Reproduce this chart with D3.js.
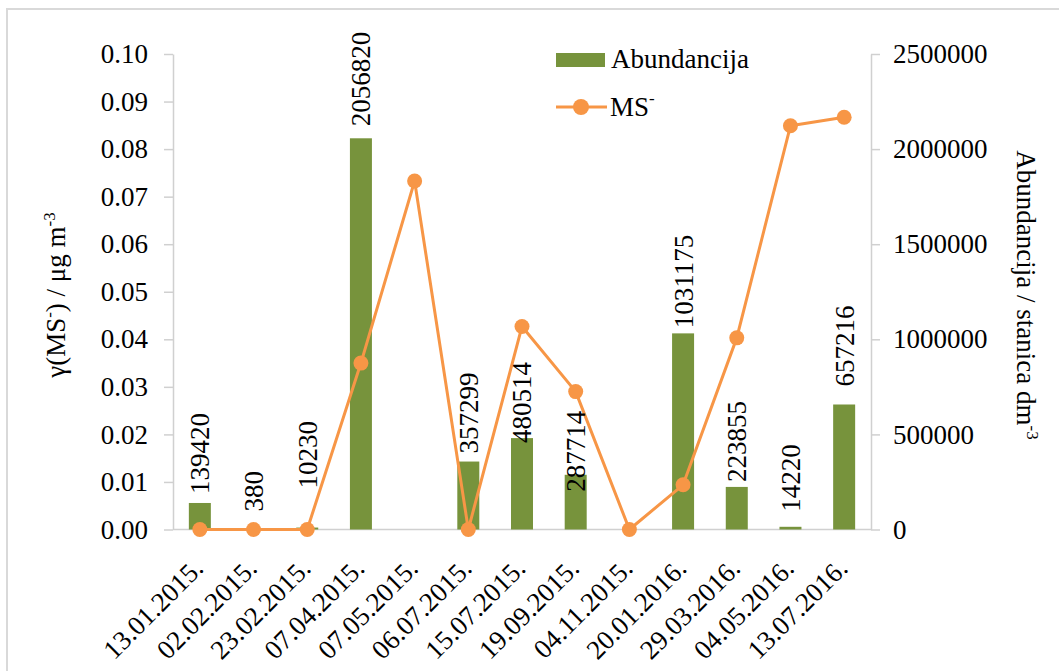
<!DOCTYPE html>
<html>
<head>
<meta charset="utf-8">
<script src="https://cdn.jsdelivr.net/npm/d3@7"></script>
<style>
  html, body { margin: 0; padding: 0; background: #fff; }
  svg text { font-family: "Liberation Serif", "Tinos", "Times New Roman", "DejaVu Serif", serif; }
</style>
</head>
<body>
<svg id="chart" width="1059" height="671"></svg>
<script>
// ---- data ----
const categories = ["13.01.2015.", "02.02.2015.", "23.02.2015.", "07.04.2015.", "07.05.2015.", "06.07.2015.",
  "15.07.2015.", "19.09.2015.", "04.11.2015.", "20.01.2016.", "29.03.2016.", "04.05.2016.", "13.07.2016."];
const abundancija = [139420, 380, 10230, 2056820, null, 357299, 480514, 287714, null, 1031175, 223855, 14220, 657216];
const msValues = [0, 0, 0, 0.035, 0.0733, 0, 0.0427, 0.029, 0, 0.0094, 0.0403, 0.0849, 0.0867];
const leftTicks = [0, 0.01, 0.02, 0.03, 0.04, 0.05, 0.06, 0.07, 0.08, 0.09, 0.10];
const rightTicks = [0, 500000, 1000000, 1500000, 2000000, 2500000];
// manual nudges of the data-label gaps (px above bar top) as placed in the original
const labelGap = [9, 18, 39, 12, 0, 8, -5, -17, 0, 5, 5, 15, 18];

// ---- layout ----
const FONT = "'Liberation Serif', 'Times New Roman', 'DejaVu Serif', serif";
const svg = d3.select("#chart").attr("font-family", FONT);
const pL = 173, pR = 871, pT = 54, pB = 529.5;
const green = "#77933C", orange = "#F79646", axisCol = "#D0D0D0";

svg.append("rect").attr("x", 7).attr("y", 9).attr("width", 1100).attr("height", 700)
  .attr("fill", "#fff").attr("stroke", "#D9D9D9").attr("stroke-width", 2);

const x = d3.scaleBand().domain(categories).range([pL, pR]).padding(0);
const yL = d3.scaleLinear().domain([0, 0.1]).range([pB, pT]);
const yR = d3.scaleLinear().domain([0, 2500000]).range([pB, pT]);
const barW = 22;
const cx = d => x(d) + x.bandwidth() / 2;

// axes
const axL = svg.append("g").attr("transform", `translate(${pL},0)`)
  .call(d3.axisLeft(yL).tickValues(leftTicks).tickFormat(d3.format(".2f")).tickSize(9).tickSizeOuter(0).tickPadding(16));
const axR = svg.append("g").attr("transform", `translate(${pR},0)`)
  .call(d3.axisRight(yR).tickValues(rightTicks).tickFormat(d3.format("d")).tickSize(9).tickSizeOuter(0).tickPadding(13));
[axL, axR].forEach(g => {
  g.attr("font-family", FONT).attr("font-size", 27);
  g.select(".domain").attr("stroke", axisCol).attr("stroke-width", 1.5);
  g.selectAll(".tick line").attr("stroke", axisCol).attr("stroke-width", 1.5);
  g.selectAll(".tick text").attr("font-size", 27).attr("fill", "#000").attr("font-family", FONT);
});

// x baseline
svg.append("line").attr("x1", pL).attr("x2", pR).attr("y1", pB).attr("y2", pB)
  .attr("stroke", axisCol).attr("stroke-width", 1.5);

// x labels
svg.append("g").selectAll("text").data(categories).join("text")
  .attr("transform", d => `translate(${cx(d) + 5},570) rotate(-45)`)
  .attr("text-anchor", "end").attr("font-size", 27).attr("fill", "#000").attr("font-family", FONT)
  .text(d => d);

// bars
const barData = categories.map((c, i) => ({ c, v: abundancija[i], g: labelGap[i] })).filter(d => d.v != null);
svg.append("g").selectAll("rect").data(barData).join("rect")
  .attr("x", d => cx(d.c) - barW / 2).attr("width", barW)
  .attr("y", d => yR(d.v)).attr("height", d => pB - yR(d.v))
  .attr("fill", green);

// line
const lineData = categories.map((c, i) => ({ c, v: msValues[i] }));
svg.append("path").datum(lineData)
  .attr("d", d3.line().x(d => cx(d.c)).y(d => yL(d.v)))
  .attr("fill", "none").attr("stroke", orange).attr("stroke-width", 3).attr("stroke-linejoin", "round");
svg.append("g").selectAll("circle").data(lineData).join("circle")
  .attr("cx", d => cx(d.c)).attr("cy", d => yL(d.v)).attr("r", 7.5).attr("fill", orange);

// data labels
svg.append("g").selectAll("text").data(barData).join("text")
  .attr("transform", d => `translate(${cx(d.c)},${yR(d.v) - d.g}) rotate(-90)`)
  .attr("dy", "0.35em").attr("text-anchor", "start").attr("font-size", 27).attr("fill", "#000")
  .attr("font-family", FONT)
  .text(d => d.v);

// axis titles
const tL = svg.append("text").attr("transform", "translate(65,295) rotate(-90)")
  .attr("text-anchor", "middle").attr("font-size", 27).attr("fill", "#000").attr("font-family", FONT);
tL.append("tspan").text("γ(MS");
tL.append("tspan").attr("dy", -10).attr("font-size", 17).text("-");
tL.append("tspan").attr("dy", 10).text(") / μg m");
tL.append("tspan").attr("dy", -10).attr("font-size", 17).text("-3");

const tR = svg.append("text").attr("transform", "translate(1017,295) rotate(90)")
  .attr("text-anchor", "middle").attr("font-size", 27).attr("fill", "#000").attr("font-family", FONT);
tR.append("tspan").text("Abundancija / stanica dm");
tR.append("tspan").attr("dy", -10).attr("font-size", 17).text("-3");

// legend
const lg = svg.append("g").attr("font-family", FONT);
lg.append("rect").attr("x", 556).attr("y", 53).attr("width", 49).attr("height", 14).attr("fill", green);
lg.append("text").attr("x", 611).attr("y", 68).attr("font-size", 27).attr("fill", "#000").text("Abundancija");
lg.append("line").attr("x1", 556).attr("x2", 607).attr("y1", 107).attr("y2", 107)
  .attr("stroke", orange).attr("stroke-width", 3);
lg.append("circle").attr("cx", 581).attr("cy", 107).attr("r", 8).attr("fill", orange);
const lt = lg.append("text").attr("x", 610).attr("y", 116).attr("font-size", 27).attr("fill", "#000");
lt.append("tspan").text("MS");
lt.append("tspan").attr("dy", -12).attr("font-size", 17).text("-");
</script>
</body>
</html>
